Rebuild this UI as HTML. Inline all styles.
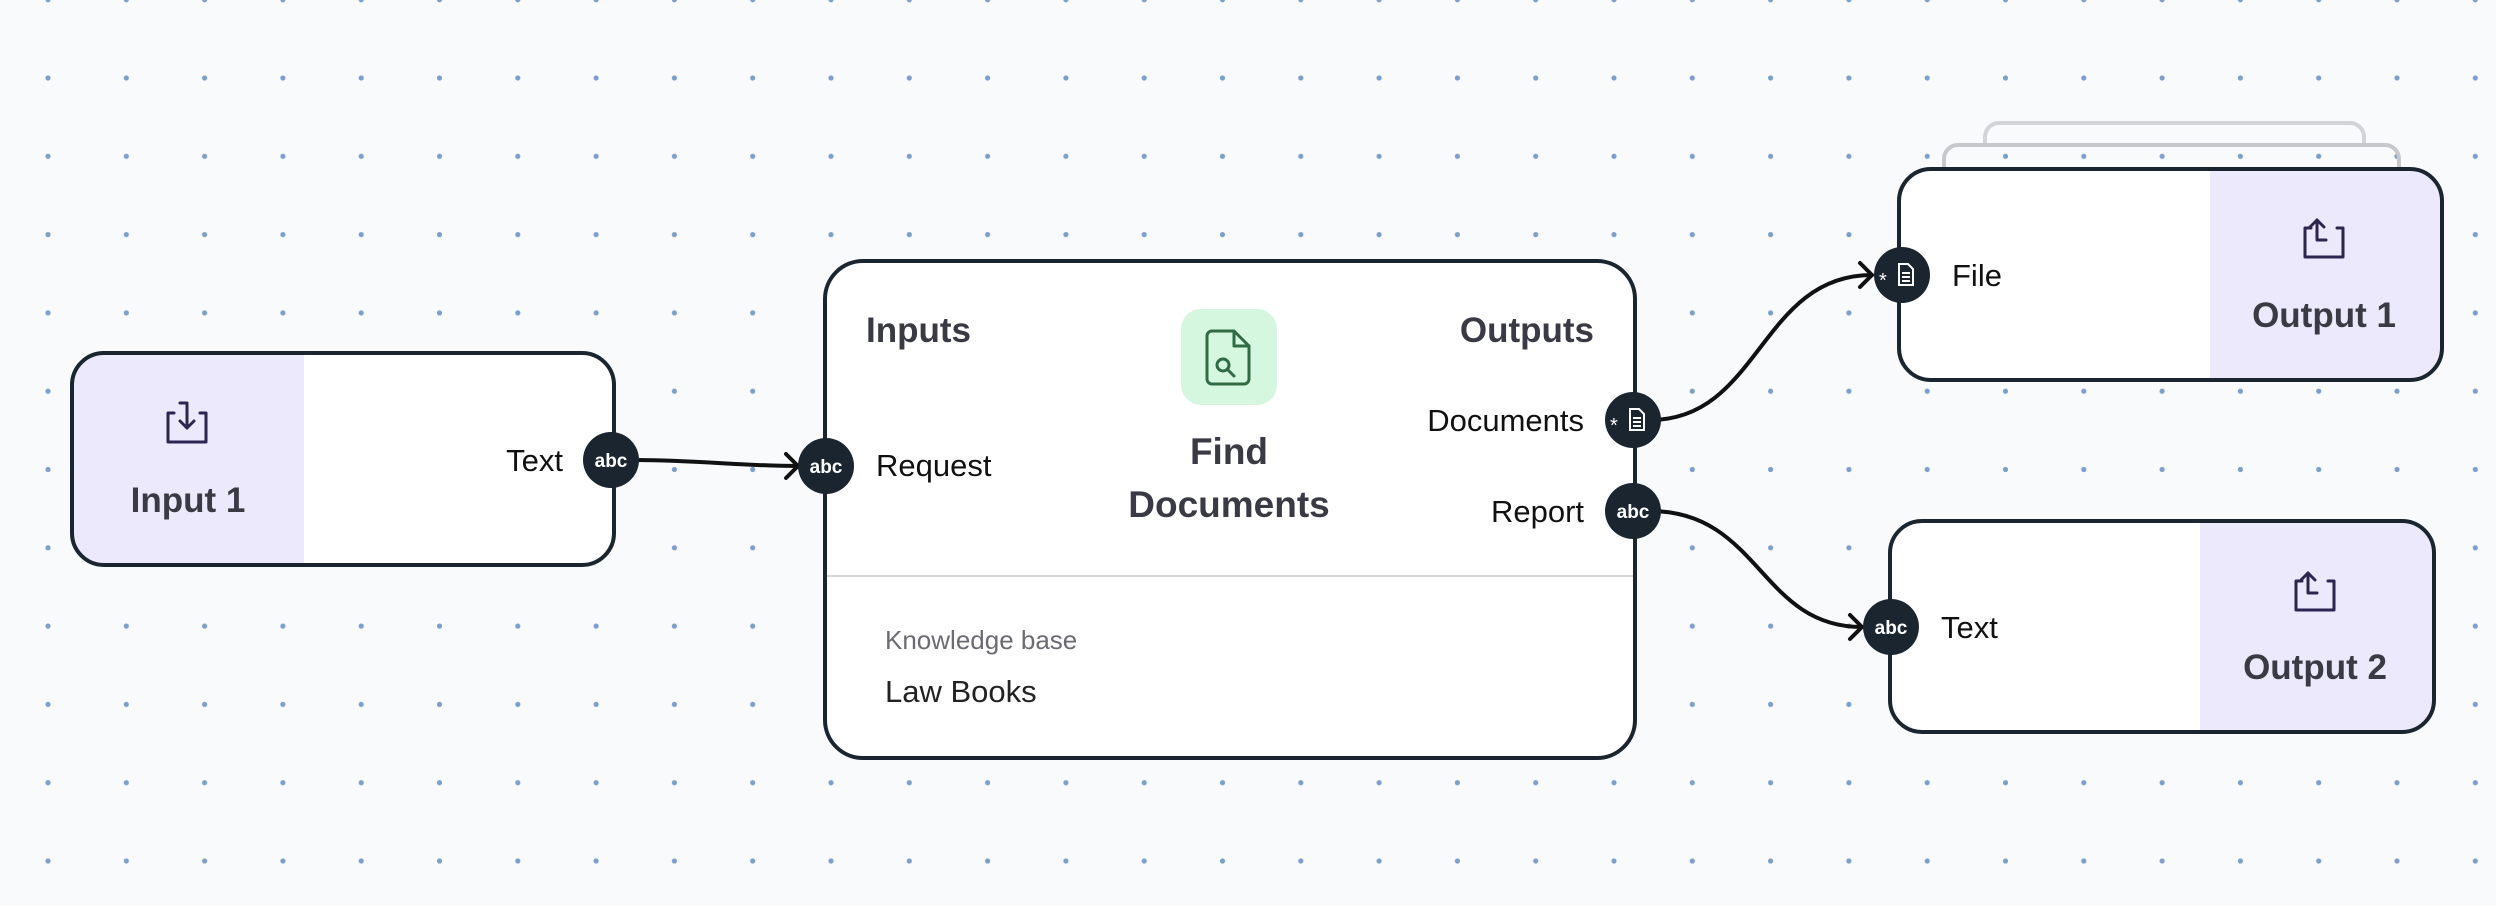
<!DOCTYPE html>
<html><head><meta charset="utf-8"><style>
html,body{margin:0;padding:0;background:#f8fafc;}
svg{display:block;font-family:"Liberation Sans",Arial,sans-serif;}
</style></head><body>
<svg width="2496" height="906" viewBox="0 0 2496 906" xmlns="http://www.w3.org/2000/svg">
<defs>
<pattern id="dots" x="48" y="78" width="78.3" height="78.3" patternUnits="userSpaceOnUse">
<circle cx="0" cy="0" r="2.6" fill="#7aa0cf"/><circle cx="78.3" cy="0" r="2.6" fill="#7aa0cf"/><circle cx="0" cy="78.3" r="2.6" fill="#7aa0cf"/><circle cx="78.3" cy="78.3" r="2.6" fill="#7aa0cf"/>
</pattern>
<clipPath id="c1"><rect x="72" y="353" width="542" height="212" rx="32"/></clipPath>
<clipPath id="c2"><rect x="1899" y="169" width="543" height="211" rx="32"/></clipPath>
<clipPath id="c3"><rect x="1890" y="521" width="544" height="211" rx="32"/></clipPath>
</defs>
<rect width="2496" height="906" fill="#f8fafc"/>
<rect width="2496" height="906" fill="url(#dots)"/>

<!-- Input 1 -->
<g clip-path="url(#c1)"><rect x="72" y="353" width="542" height="212" fill="#fff"/><rect x="72" y="353" width="232" height="212" fill="#ebe9fb"/></g>
<rect x="72" y="353" width="542" height="212" rx="32" fill="none" stroke="#1a2530" stroke-width="4"/>
<g fill="none" stroke="#2e2450" stroke-width="3" stroke-linecap="round" stroke-linejoin="round">
<path d="M174 413 h-6 v29 h38 v-29 h-6"/><path d="M180 403 h7 v25"/><path d="M180 421 l7 7 l7 -7"/></g>
<text x="188" y="512" font-size="35" font-weight="bold" fill="#3a3a44" text-anchor="middle">Input 1</text>
<text x="563" y="471" font-size="31" fill="#111" text-anchor="end">Text</text>

<!-- Main node -->
<rect x="825" y="261" width="810" height="497" rx="38" fill="#fff" stroke="#1a2530" stroke-width="4"/>
<line x1="827" y1="576" x2="1633" y2="576" stroke="#d4d4d8" stroke-width="2"/>
<text x="866" y="342" font-size="35" font-weight="bold" fill="#3a3a44">Inputs</text>
<text x="1594" y="342" font-size="35" font-weight="bold" fill="#3a3a44" text-anchor="end">Outputs</text>
<text x="876" y="476" font-size="31" fill="#111">Request</text>
<text x="1584" y="431" font-size="31" fill="#111" text-anchor="end">Documents</text>
<text x="1584" y="522" font-size="31" fill="#111" text-anchor="end">Report</text>
<rect x="1181" y="309" width="96" height="96" rx="20" fill="#d6f7df"/>
<g fill="none" stroke="#2f6b45" stroke-width="3" stroke-linejoin="round" stroke-linecap="round">
<path d="M1207 336 a5 5 0 0 1 5 -5 h22 l15 15 v33 a5 5 0 0 1 -5 5 h-32 a5 5 0 0 1 -5 -5 z"/><path d="M1234 331 v15 h15"/>
<circle cx="1223" cy="365" r="6"/><path d="M1228 370 l6 6"/></g>
<text x="1229" y="464" font-size="37" font-weight="bold" fill="#3a3a44" text-anchor="middle">Find</text>
<text x="1229" y="517" font-size="37" font-weight="bold" fill="#3a3a44" text-anchor="middle">Documents</text>
<text x="885" y="649" font-size="26" fill="#6b6b73">Knowledge base</text>
<text x="885" y="702" font-size="31" fill="#222">Law Books</text>

<!-- Output 1 stack -->
<path d="M1985 145 v-8 a14 14 0 0 1 14 -14 h351 a14 14 0 0 1 14 14 v8" fill="none" stroke="#d4d4d8" stroke-width="4"/>
<path d="M1944 169 v-10 a14 14 0 0 1 14 -14 h427 a14 14 0 0 1 14 14 v10" fill="none" stroke="#c8c8cc" stroke-width="4"/>
<g clip-path="url(#c2)"><rect x="1899" y="169" width="543" height="211" fill="#fff"/><rect x="2210" y="169" width="232" height="211" fill="#ebe9fb"/></g>
<rect x="1899" y="169" width="543" height="211" rx="32" fill="none" stroke="#1a2530" stroke-width="4"/>
<g fill="none" stroke="#2e2450" stroke-width="3" stroke-linecap="round" stroke-linejoin="round">
<path d="M2311 228 h-6 v29 h38 v-29 h-6"/><path d="M2317 220 v20 h9"/><path d="M2310 227 l7 -7 l7 7"/></g>
<text x="2324" y="327" font-size="35" font-weight="bold" fill="#3a3a44" text-anchor="middle">Output 1</text>
<text x="1952" y="286" font-size="31" fill="#111">File</text>

<!-- Output 2 -->
<g clip-path="url(#c3)"><rect x="1890" y="521" width="544" height="211" fill="#fff"/><rect x="2200" y="521" width="234" height="211" fill="#ebe9fb"/></g>
<rect x="1890" y="521" width="544" height="211" rx="32" fill="none" stroke="#1a2530" stroke-width="4"/>
<g fill="none" stroke="#2e2450" stroke-width="3" stroke-linecap="round" stroke-linejoin="round">
<path d="M2302 581 h-6 v29 h38 v-29 h-6"/><path d="M2308 573 v20 h9"/><path d="M2301 580 l7 -7 l7 7"/></g>
<text x="2315" y="679" font-size="35" font-weight="bold" fill="#3a3a44" text-anchor="middle">Output 2</text>
<text x="1941" y="638" font-size="31" fill="#111">Text</text>

<!-- connectors -->
<g fill="none" stroke="#111" stroke-width="4" stroke-linecap="round" stroke-linejoin="round">
<path d="M630 460 C700 460 740 466 798 466"/><path d="M786 454 l12 12 l-12 12"/>
<path d="M1650 420 C1760 420 1760 275 1872 275"/><path d="M1860 263 l12 12 l-12 12"/>
<path d="M1650 511 C1760 511 1760 627 1862 627"/><path d="M1850 615 l12 12 l-12 12"/>
</g>

<!-- ports -->
<g fill="#1a2530">
<circle cx="611" cy="460" r="28"/><circle cx="826" cy="466" r="28"/>
<circle cx="1633" cy="420" r="28"/><circle cx="1633" cy="511" r="28"/>
<circle cx="1902" cy="275" r="28"/><circle cx="1891" cy="627" r="28"/>
</g>
<g fill="#fff" font-size="19" font-weight="bold" text-anchor="middle">
<text x="611" y="467">abc</text><text x="826" y="473">abc</text>
<text x="1633" y="518">abc</text><text x="1891" y="634">abc</text>
</g>
<g fill="none" stroke="#fff" stroke-width="2">
<path d="M1630 409 h9 l5 5 v16 h-14 z"/><path d="M1633 418 h8 M1633 422 h8 M1633 426 h8"/>
<path d="M1899 264 h9 l5 5 v16 h-14 z"/><path d="M1902 273 h8 M1902 277 h8 M1902 281 h8"/>
</g>
<g fill="#fff" font-size="20"><text x="1610" y="432">*</text><text x="1879" y="287">*</text></g>
</svg>
</body></html>
